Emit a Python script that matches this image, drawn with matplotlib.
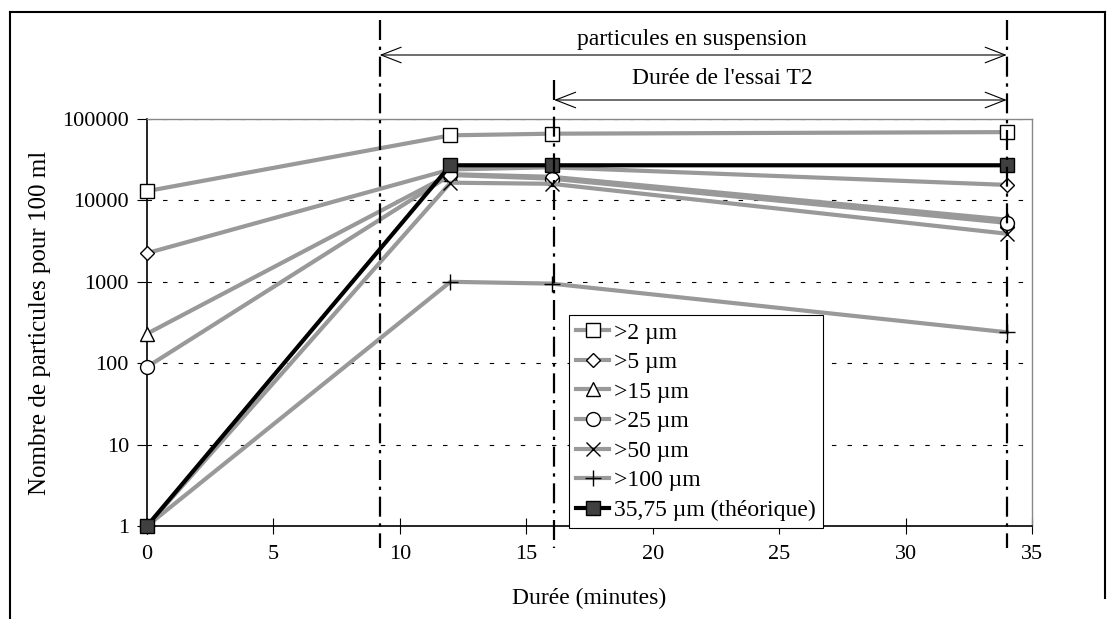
import matplotlib
matplotlib.use('Agg')
import matplotlib.pyplot as plt
from matplotlib.lines import Line2D
from matplotlib.transforms import blended_transform_factory

plt.rcParams['font.family'] = ['Liberation Serif', 'DejaVu Serif']
plt.rcParams['font.size'] = 16

# data (time in minutes, particles per 100 ml)
durees = [0, 12, 16, 34]
series_labels = ['>2 µm', '>5 µm', '>15 µm', '>25 µm', '>50 µm', '>100 µm']
p2 = [13000, 63000, 66000, 69000]
p5 = [2250, 24000, 25500, 15500]
p15 = [230, 21000, 19500, 5800]
p25 = [90, 20500, 18500, 5300]
p50 = [1, 16500, 16000, 3900]
p100 = [1, 1000, 950, 240]
theo_label = '35,75 µm (théorique)'
theo = [1, 27000, 27000, 27000]

# vertical markers (minutes)
t_debut_susp = 9.2
t_debut_essai = 16.1
t_fin = 34.0

x_ticks = [0, 5, 10, 15, 20, 25, 30, 35]
y_ticks = [1, 10, 100, 1000, 10000, 100000]

W, H = 1117, 619
fig = plt.figure(figsize=(W / 100, H / 100), dpi=100)
ax = fig.add_axes([147 / W, 1 - 526 / H, (1032 - 147) / W, (526 - 119) / H])

grey = '#999999'
markers = ['s', 'D', '^', 'o', 'x', '+']
msizes = [10, 7.5, 10, 10, 10, 11]
all_series = [p2, p5, p15, p25, p50, p100]
for vals, lab, m, ms in zip(all_series, series_labels, markers, msizes):
    ax.plot(durees, vals, color=grey, lw=3, marker=m, ms=ms,
            mfc='white', mec='black', mew=1, label=lab, zorder=3,
            clip_on=False)
ax.plot(durees, theo, color='black', lw=3, marker='s', ms=10,
        mfc='#404040', mec='black', mew=1, label=theo_label, zorder=4,
        clip_on=False)

ax.set_yscale('log')
ax.set_xlim(0, 35)
ax.set_ylim(1, 100000)
ax.set_xticks(x_ticks)
ax.set_yticks(y_ticks)
ax.set_yticklabels([str(v) for v in y_ticks])
ax.minorticks_off()
ax.tick_params(axis='x', direction='inout', length=11, width=0.8, pad=8)
ax.tick_params(axis='y', direction='out', length=7, width=0.8, pad=6)

ax.yaxis.grid(True, color='black', lw=0.8, linestyle=(0, (4, 10)))
ax.set_axisbelow(True)
for side in ['top', 'right']:
    ax.spines[side].set_color('#888888')
    ax.spines[side].set_linewidth(1)
for side in ['left', 'bottom']:
    ax.spines[side].set_linewidth(1.2)

ax.set_xlabel('Durée (minutes)', fontsize=17)
ax.set_ylabel('Nombre de particules pour 100 ml', fontsize=18)
ax.xaxis.set_label_coords(0.5, -(598 - 526) / (526 - 119))
ax.xaxis.label.set_va('center')
ax.yaxis.set_label_coords(-(147 - 40) / (1032 - 147), 0.5)
ax.yaxis.label.set_va('center')

leg = ax.legend(loc='upper left', bbox_to_anchor=(569 / W, 1 - 315 / H),
                bbox_transform=fig.transFigure, frameon=True, fancybox=False,
                edgecolor='black', framealpha=1, handlelength=1.4,
                handletextpad=0.2, labelspacing=0.34, borderpad=0.3,
                borderaxespad=0, fontsize=17)
leg.get_frame().set_linewidth(0.8)

# dash-dot limits, drawn across the figure
tr = blended_transform_factory(ax.transData, fig.transFigure)
for t in [t_debut_susp, t_debut_essai, t_fin]:
    y_top = 1 - 20 / H if t != t_debut_essai else 1 - 80 / H
    fig.add_artist(Line2D([t, t], [y_top, 1 - 548 / H], transform=tr,
                          color='black', lw=1.6, linestyle=(0, (9, 3, 1.5, 3)),
                          zorder=10))

arrow = dict(arrowstyle='<->,head_length=0.9,head_width=0.35', color='black',
             lw=0.8, shrinkA=0, shrinkB=0)
ax.annotate('', xy=(t_debut_susp, 1 - 55 / H), xytext=(t_fin, 1 - 55 / H),
            xycoords=tr, textcoords=tr, arrowprops=arrow, annotation_clip=False)
ax.annotate('', xy=(t_debut_essai, 1 - 100 / H), xytext=(t_fin, 1 - 100 / H),
            xycoords=tr, textcoords=tr, arrowprops=arrow, annotation_clip=False)
fig.text(692 / W, 1 - 40 / H, 'particules en suspension', ha='center',
         va='center', fontsize=17)
fig.text(722 / W, 1 - 78 / H, "Durée de l'essai T2", ha='center',
         va='center', fontsize=17)

# outer frame
frame_kw = dict(transform=fig.transFigure, color='black', lw=1.5)
fig.add_artist(Line2D([10 / W, 10 / W], [0, 1 - 12 / H], **frame_kw))
fig.add_artist(Line2D([10 / W, 1105 / W], [1 - 12 / H, 1 - 12 / H], **frame_kw))
fig.add_artist(Line2D([1105 / W, 1105 / W], [1 - 12 / H, 1 - 598 / H], **frame_kw))

fig.savefig('out.png', dpi=100)
